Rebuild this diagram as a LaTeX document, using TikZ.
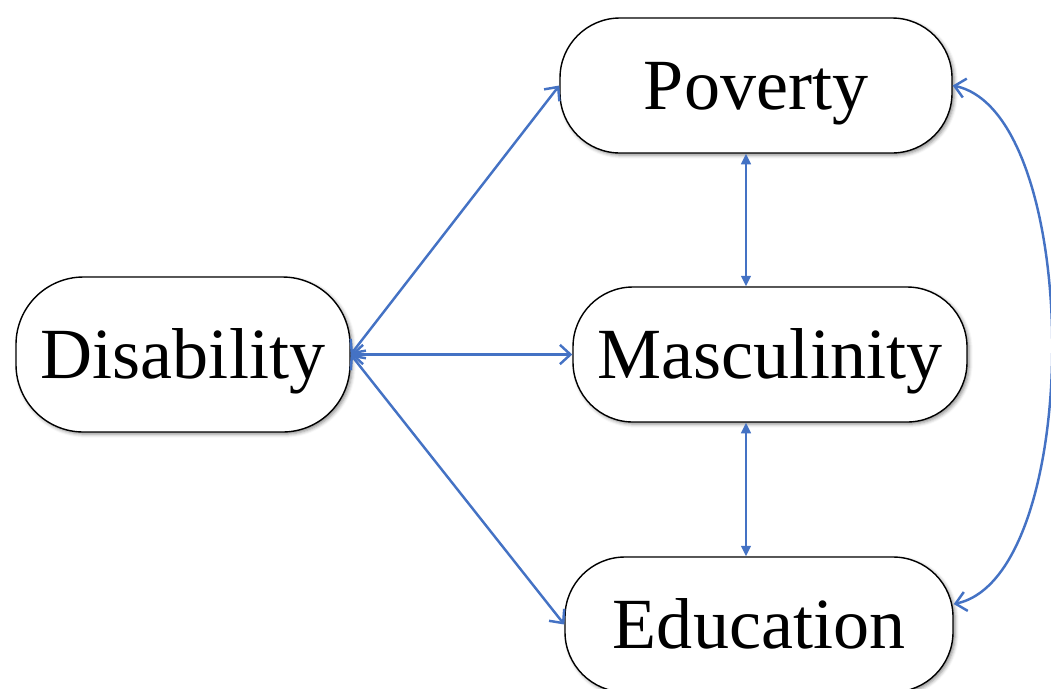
\documentclass[tikz,border=0pt]{standalone}
\usepackage{fontspec}
\setmainfont{Liberation Serif}
\usetikzlibrary{arrows.meta,shadows.blur}
\definecolor{bleu}{HTML}{4472C4}

\begin{document}
\begin{tikzpicture}
\tikzset{noeud/.style={draw, line width=0.8pt, rounded corners=1.2cm, fill=white,
    minimum width=7.8cm, minimum height=2.7cm, inner sep=0pt,
    font=\fontsize{41}{48}\selectfont, text height=27pt, text depth=0pt,
    blur shadow={shadow xshift=1.2pt, shadow yshift=-1.2pt, shadow blur radius=2pt, shadow opacity=45}},
  lien/.style={draw=bleu, line width=1.4pt, {Straight Barb[length=6pt,width=11pt]}-{Straight Barb[length=6pt,width=11pt]}},
  lienv/.style={draw=bleu, line width=1.4pt, {Triangle[length=6pt,width=5.5pt]}-{Triangle[length=6pt,width=5.5pt]}}}
\useasboundingbox (0,0) rectangle (21.02,-13.76);
\node[noeud, minimum width=6.68cm, minimum height=3.1cm, rounded corners=1.35cm] (dis) at (3.66,-7.09) {Disability};
\node[noeud, minimum width=7.84cm] (pov) at (15.12,-1.71) {Poverty};
\node[noeud, minimum width=7.88cm] (mas) at (15.4,-7.09) {Masculinity};
\node[noeud, minimum width=7.76cm] (edu) at (15.18,-12.49) {Education};
\draw[lien] (dis.east) -- (pov.west);
\draw[lien] (dis.east) -- (mas.west);
\draw[lien] (dis.east) -- (edu.west);
\draw[lienv] (pov.south -| 14.92,0) -- (mas.north -| 14.92,0);
\draw[lienv] (mas.south -| 14.92,0) -- (edu.north -| 14.92,0);
\draw[lien] (pov.east) .. controls +(-12:2.68) and +(12:2.68) .. (edu.6);
\end{tikzpicture}
\end{document}
